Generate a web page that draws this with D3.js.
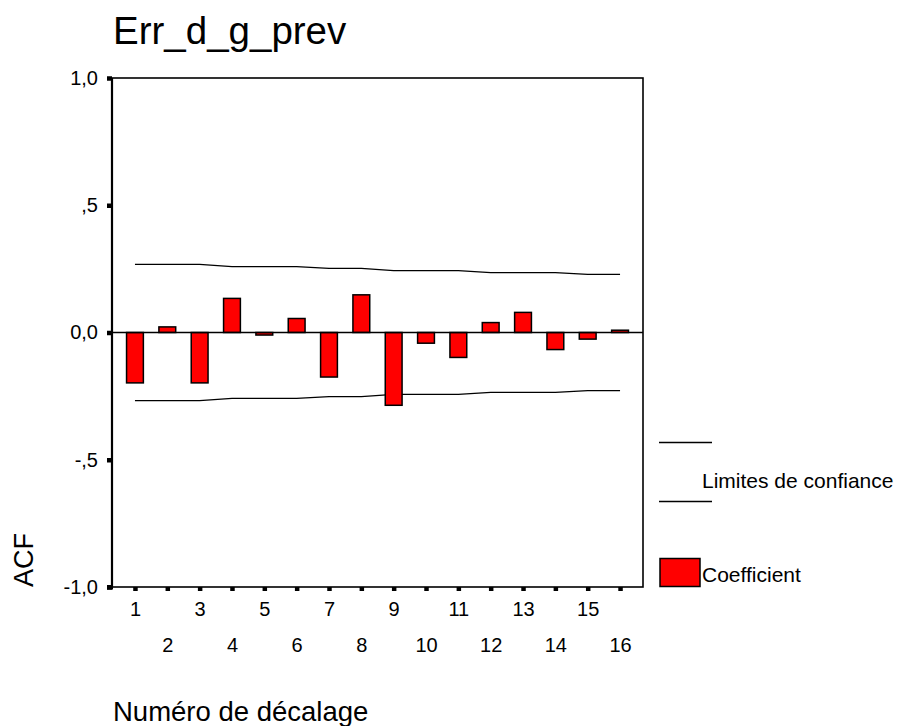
<!DOCTYPE html>
<html><head><meta charset="utf-8">
<script src="https://cdn.jsdelivr.net/npm/d3@7/dist/d3.min.js"></script>
<style>
html,body{margin:0;padding:0;background:#fff;}
svg{display:block;font-family:"Liberation Sans",Arial,sans-serif;}
</style></head>
<body><svg id="c" width="902" height="726"></svg>
<script>
const lags = [1,2,3,4,5,6,7,8,9,10,11,12,13,14,15,16];
const acf = [-0.198, 0.022, -0.198, 0.134, -0.010, 0.055, -0.175, 0.148, -0.286, -0.042, -0.098, 0.039, 0.079, -0.067, -0.026, 0.009];
const upperLimit = [0.268,0.268,0.268,0.259,0.259,0.259,0.252,0.252,0.243,0.243,0.243,0.235,0.235,0.235,0.228,0.228];
const lowerLimit = [-0.268,-0.268,-0.268,-0.259,-0.259,-0.259,-0.252,-0.252,-0.243,-0.243,-0.243,-0.235,-0.235,-0.235,-0.228,-0.228];
const yTickValues = [1, 0.5, 0, -0.5, -1];
const yTickLabels = ["1,0", ",5", "0,0", "-,5", "-1,0"];
const titleText = "Err_d_g_prev";
const xTitle = "Numéro de décalage";
const yTitle = "ACF";
const legendLimits = "Limites de confiance";
const legendCoef = "Coefficient";

const svg = d3.select("#c");
const L = 112, R = 643, T = 78, B = 587;
const x = d3.scalePoint().domain(lags).range([L, R]).padding(0.71);
const y = d3.scaleLinear().domain([-1, 1]).range([B, T]);
const barW = x.step() * 0.52;

// frame
svg.append("rect").attr("x", L).attr("y", T).attr("width", R - L).attr("height", B - T)
  .attr("fill", "none").attr("stroke", "#000").attr("stroke-width", 1.6);
svg.append("line").attr("x1", L).attr("x2", L).attr("y1", T).attr("y2", B)
  .attr("stroke", "#000").attr("stroke-width", 2.2);

// confidence limits
const line = d3.line().x((d, i) => x(lags[i])).y(d => y(d));
[upperLimit, lowerLimit].forEach(arr => {
  svg.append("path").attr("d", line(arr)).attr("fill", "none")
    .attr("stroke", "#000").attr("stroke-width", 1.3);
});

// bars
svg.append("g").selectAll("rect").data(acf).join("rect")
  .attr("x", (d, i) => x(lags[i]) - barW / 2)
  .attr("y", d => y(Math.max(0, d)))
  .attr("width", barW)
  .attr("height", d => Math.max(1.5, Math.abs(y(d) - y(0))))
  .attr("fill", "#ff0000").attr("stroke", "#000").attr("stroke-width", 1.5);

// zero line
svg.append("line").attr("x1", L).attr("x2", R).attr("y1", y(0)).attr("y2", y(0))
  .attr("stroke", "#000").attr("stroke-width", 1.5);

// y axis
const yAxis = d3.axisLeft(y).tickValues(yTickValues)
  .tickFormat((d, i) => yTickLabels[i]).tickSize(5).tickPadding(9);
const gy = svg.append("g").attr("transform", `translate(${L},0)`).call(yAxis);
gy.select(".domain").remove();
gy.selectAll(".tick line").attr("stroke-width", 4.5).attr("stroke", "#000");
gy.selectAll(".tick text").attr("font-size", 20).attr("fill", "#000")
  .attr("font-family", "Liberation Sans, Arial, sans-serif");

// x axis
const xAxis = d3.axisBottom(x).tickSize(4).tickPadding(11);
const gx = svg.append("g").attr("transform", `translate(0,${B})`).call(xAxis);
gx.select(".domain").remove();
gx.selectAll(".tick line").attr("stroke-width", 4.5).attr("stroke", "#000");
gx.selectAll(".tick text").attr("font-size", 20).attr("fill", "#000")
  .attr("font-family", "Liberation Sans, Arial, sans-serif")
  .attr("dy", d => (d % 2 === 0) ? "2.5em" : "0.71em");

// corner mark
svg.append("rect").attr("x", L - 5).attr("y", B - 2).attr("width", 6).attr("height", 4.5).attr("fill", "#000");

// titles
svg.append("text").attr("x", 113).attr("y", 43.5).attr("font-size", 38.5).text(titleText);
svg.append("text").attr("x", 113).attr("y", 721).attr("font-size", 27.5).text(xTitle);
svg.append("text").attr("transform", "translate(33,587) rotate(-90)")
  .attr("font-size", 27).text(yTitle);

// legend
const lg = svg.append("g");
lg.append("line").attr("x1", 659).attr("x2", 712).attr("y1", 442.5).attr("y2", 442.5)
  .attr("stroke", "#000").attr("stroke-width", 1.6);
lg.append("line").attr("x1", 659).attr("x2", 712).attr("y1", 501.5).attr("y2", 501.5)
  .attr("stroke", "#000").attr("stroke-width", 1.6);
lg.append("text").attr("x", 702).attr("y", 488).attr("font-size", 21).text(legendLimits);
lg.append("rect").attr("x", 660).attr("y", 558.5).attr("width", 40).attr("height", 28)
  .attr("fill", "#ff0000").attr("stroke", "#000").attr("stroke-width", 1.5);
lg.append("text").attr("x", 702).attr("y", 582).attr("font-size", 21).text(legendCoef);
</script></body></html>
